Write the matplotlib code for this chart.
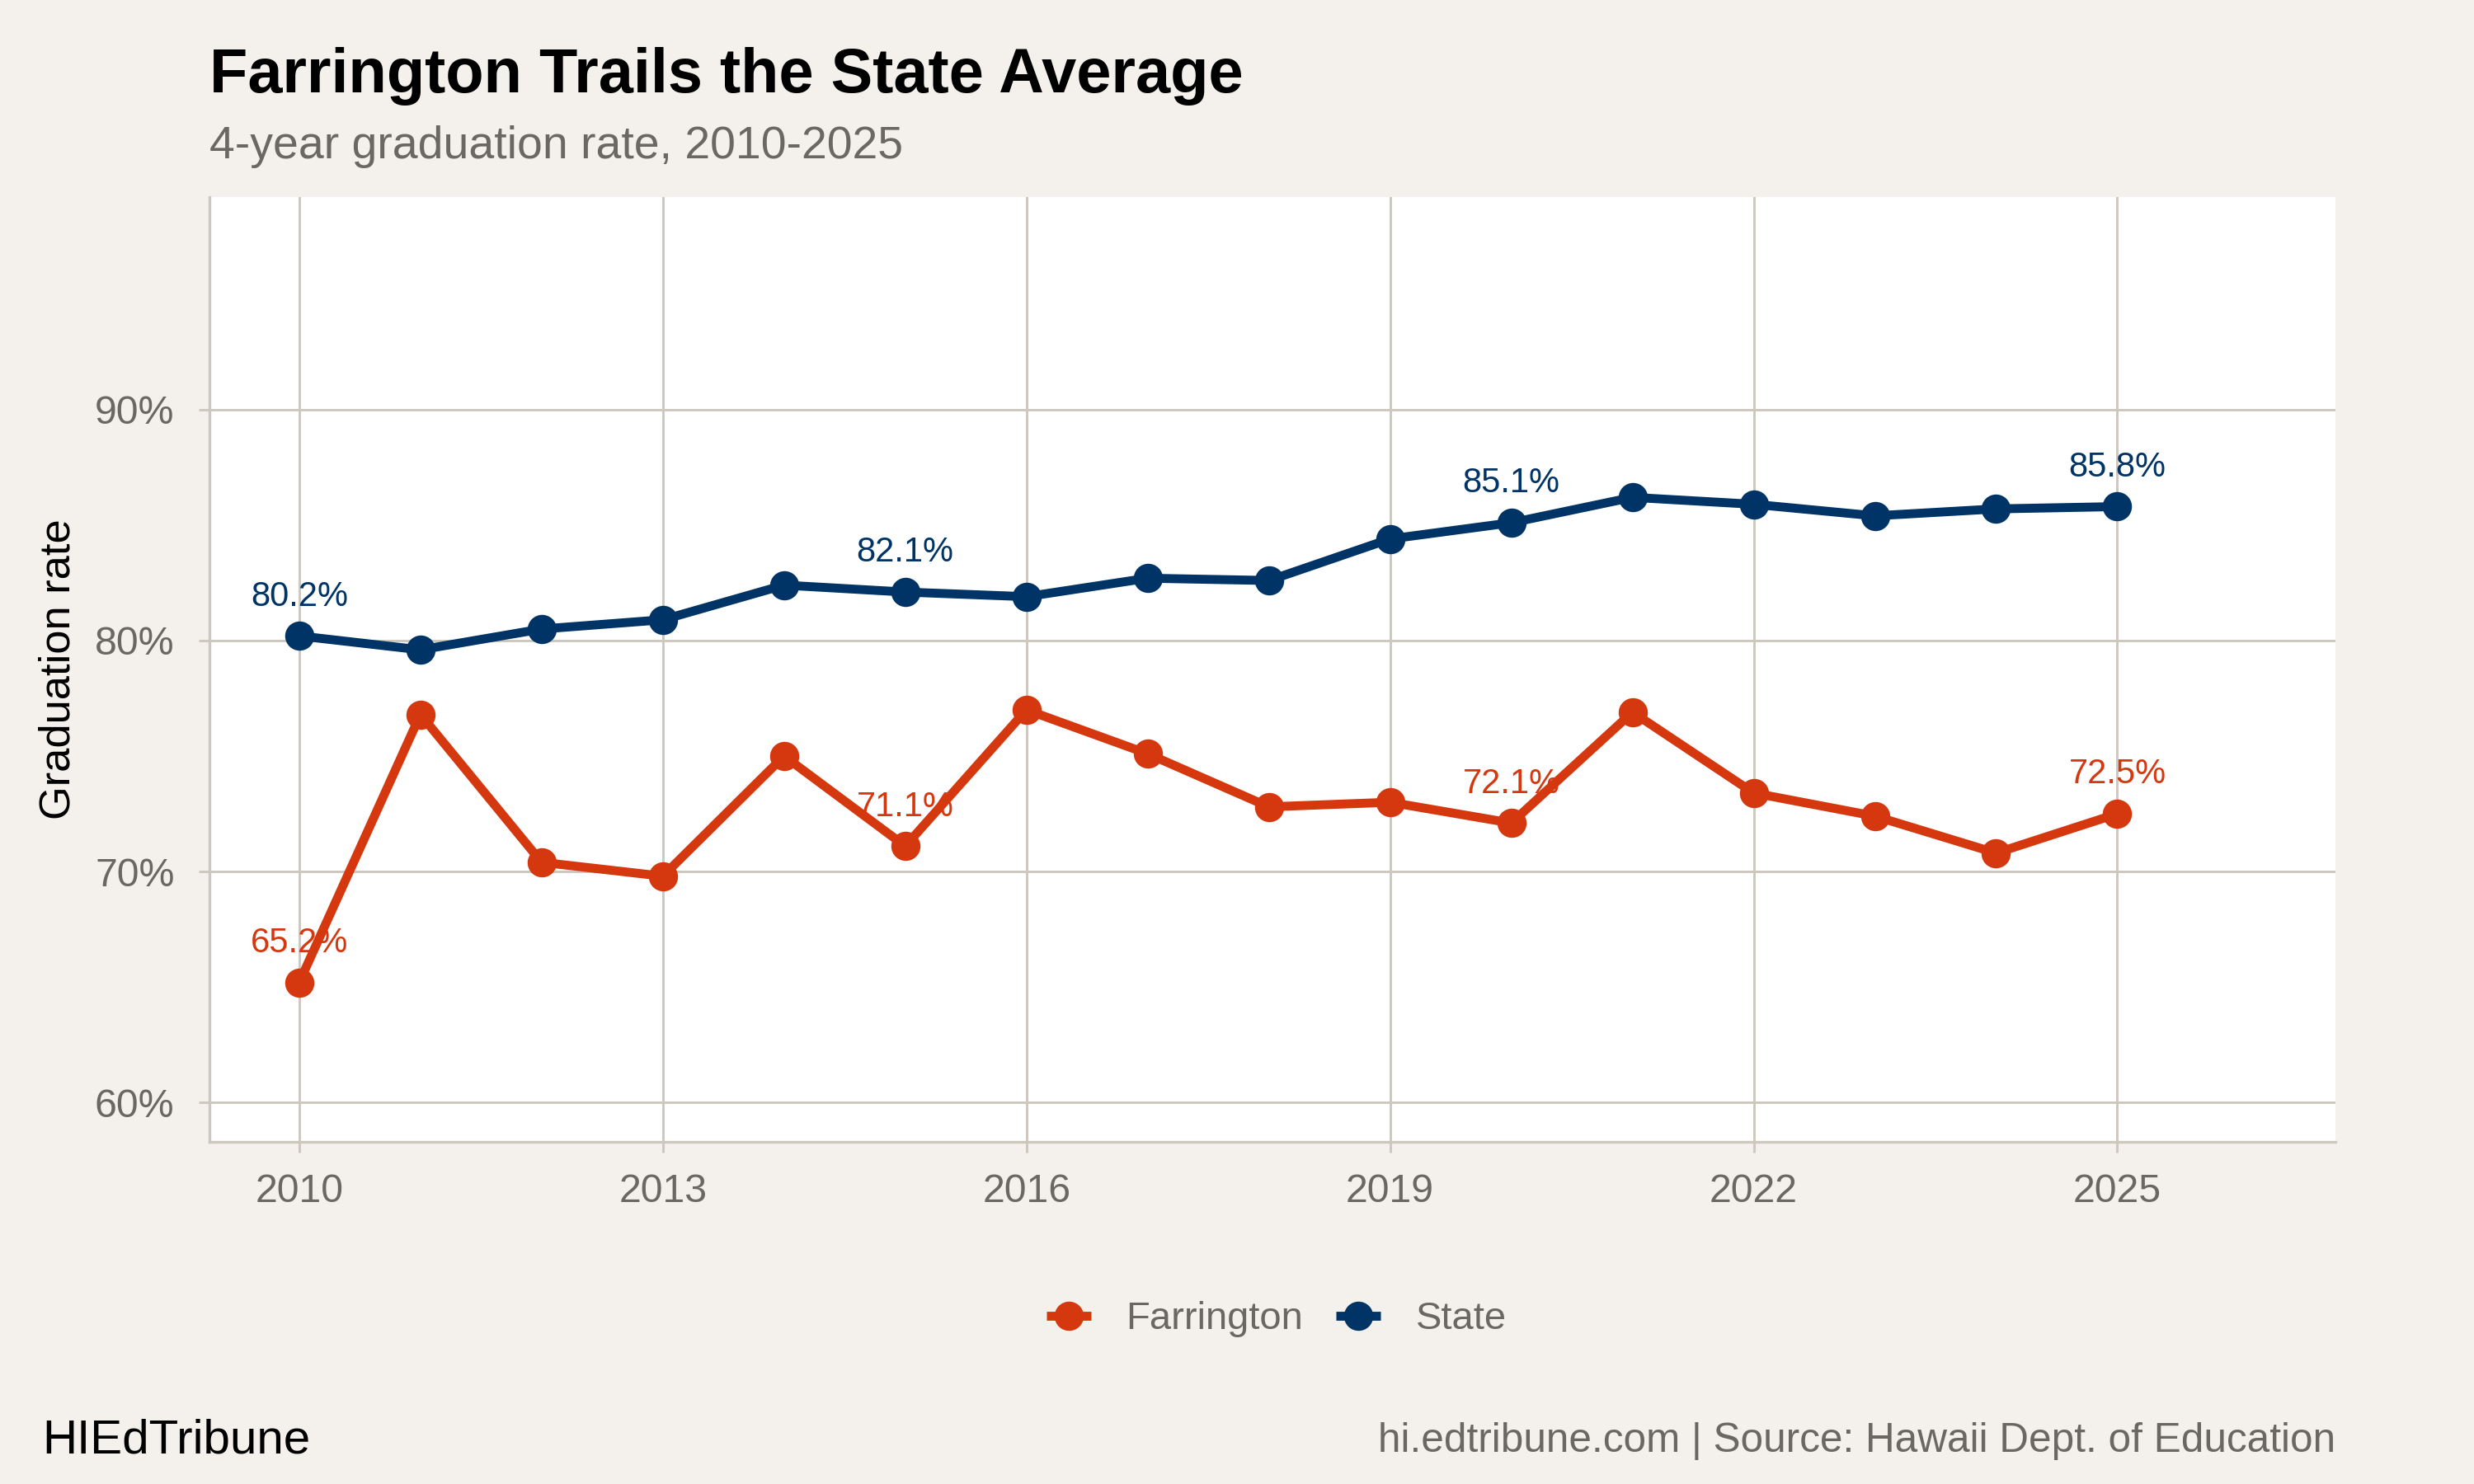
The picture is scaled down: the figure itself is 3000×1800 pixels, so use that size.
import matplotlib
matplotlib.use("Agg")
import matplotlib.pyplot as plt
from matplotlib.ticker import FuncFormatter

plt.rcParams['font.family'] = ['Liberation Sans', 'DejaVu Sans']

years = list(range(2010, 2026))
farrington = [65.2, 76.8, 70.4, 69.8, 75.0, 71.1, 77.0, 75.1, 72.8, 73.0,
              72.1, 76.9, 73.4, 72.4, 70.8, 72.5]
state = [80.2, 79.6, 80.5, 80.9, 82.4, 82.1, 81.9, 82.7, 82.6, 84.4,
         85.1, 86.2, 85.9, 85.4, 85.7, 85.8]
label_years = [2010, 2015, 2020, 2025]
x_ticks = [2010, 2013, 2016, 2019, 2022, 2025]
y_ticks = [60, 70, 80, 90]

bg = '#f4f1ec'
grid_col = '#ccc7bf'
gray_txt = '#6b6762'
c_farr = '#d5380e'
c_state = '#003366'

fig = plt.figure(figsize=(10, 6), dpi=300)
fig.set_facecolor(bg)
ax = fig.add_axes([0.0847, 0.2306, 0.944 - 0.0847, 0.8672 - 0.2306])
ax.set_facecolor('white')

for name, vals, col in [('Farrington', farrington, c_farr), ('State', state, c_state)]:
    ax.plot(years, vals, color=col, lw=2.6, marker='o', ms=7.5, label=name,
            solid_capstyle='butt', zorder=3)
    for yr, v in zip(years, vals):
        if yr in label_years:
            ax.text(yr, v + 1.7, f"{v:.1f}%", color=col, fontsize=10,
                    ha='center', va='center', zorder=4)

ax.set_xlim(2009.26, 2026.8)
ax.set_ylim(58.3, 99.2)
ax.set_xticks(x_ticks)
ax.set_yticks(y_ticks)
ax.yaxis.set_major_formatter(FuncFormatter(lambda v, p: f"{v:.0f}%"))
ax.grid(True, color=grid_col, lw=0.7)
ax.set_axisbelow(True)
for s in ['top', 'right']:
    ax.spines[s].set_visible(False)
for s in ['left', 'bottom']:
    ax.spines[s].set_color(grid_col)
    ax.spines[s].set_linewidth(0.8)
ax.tick_params(colors=grid_col, labelcolor=gray_txt, labelsize=11.6, length=3.2, width=0.7)
ax.tick_params(axis='y', pad=7)
ax.tick_params(axis='x', pad=6)
fig.text(0.0237, (0.2306 + 0.8672) / 2, 'Graduation rate', fontsize=12.6, color='black',
         rotation=90, ha='center', va='center')

fig.text(0.0847, 0.938, 'Farrington Trails the State Average', fontsize=18.2,
         fontweight='bold', ha='left', va='baseline')
fig.text(0.0847, 0.8935, '4-year graduation rate, 2010-2025', fontsize=13.3,
         color=gray_txt, ha='left', va='baseline')

leg = fig.legend(loc='center', bbox_to_anchor=(0.516, 0.111), ncol=2, frameon=False,
                 fontsize=11.3, handlelength=1.15, columnspacing=0.85, handletextpad=0.9)
for t in leg.get_texts():
    t.set_color(gray_txt)

fig.text(0.017, 0.029, 'HIEdTribune', fontsize=14, ha='left', va='center')
fig.text(0.944, 0.029, 'hi.edtribune.com | Source: Hawaii Dept. of Education',
         fontsize=11.9, color=gray_txt, ha='right', va='center')

fig.savefig('out.png', dpi=300, facecolor=bg)
